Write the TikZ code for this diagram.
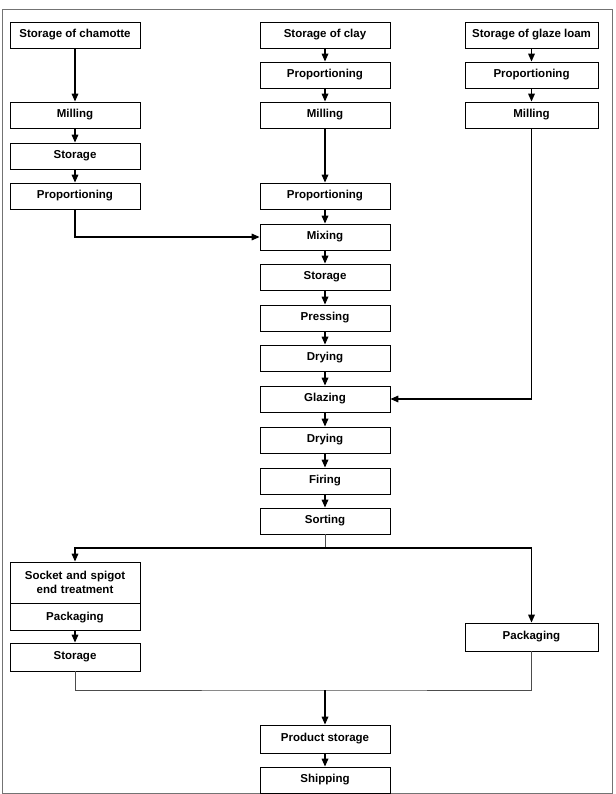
\documentclass[tikz,border=0pt]{standalone}
\usepackage{fontspec}
\setmainfont{Liberation Sans}
\usetikzlibrary{arrows.meta}
\begin{document}
\begin{tikzpicture}[x=1pt,y=-1pt,
  box/.style={draw, line width=0.7pt, minimum width=130pt, minimum height=26pt, inner sep=1pt,
    font=\fontsize{11.5}{13.5}\selectfont\bfseries, align=center},
  arr/.style={line width=1.6pt, -{Triangle[length=8pt,width=6.5pt]}},
  thin/.style={line width=0.6pt, draw=black!70}]
\useasboundingbox (0,0) rectangle (615,794);
\draw[line width=0.8pt, draw=black!55] (2,9) rectangle (612,793);
% left column
\node[box] (cham) at (75,35) {Storage of chamotte};
\node[box] (mill1) at (75,115) {Milling};
\node[box] (stor1) at (75,156) {Storage};
\node[box] (prop1) at (75,196) {Proportioning};
% middle column
\node[box] (clay) at (325,35) {Storage of clay};
\node[box] (prop2) at (325,75) {Proportioning};
\node[box] (mill2) at (325,115) {Milling};
\node[box] (prop3) at (325,196) {Proportioning};
\node[box] (mix) at (325,237) {Mixing};
\node[box] (stor2) at (325,277) {Storage};
\node[box] (press) at (325,318) {Pressing};
\node[box] (dry1) at (325,358) {Drying};
\node[box] (glaze) at (325,399) {Glazing};
\node[box] (dry2) at (325,440) {Drying};
\node[box] (fire) at (325,481) {Firing};
\node[box] (sort) at (325,521) {Sorting};
% right column
\node[box, minimum width=133pt] (gloam) at (531.5,35) {Storage of glaze loam};
\node[box, minimum width=133pt] (prop4) at (531.5,75) {Proportioning};
\node[box, minimum width=133pt] (mill3) at (531.5,115) {Milling};
% lower part
\node[box, minimum height=41pt, text width=126pt] (sock) at (75,582.5) {Socket and spigot\\end treatment};
\node[box, minimum height=27pt, anchor=north] (pack1) at (sock.south) {Packaging};
\node[box, minimum height=28pt] (stor3) at (75,657) {Storage};
\node[box, minimum width=133pt, minimum height=28pt] (pack2) at (531.5,637) {Packaging};
\node[box, minimum height=28pt] (prod) at (325,739) {Product storage};
\node[box] (ship) at (325,780) {Shipping};
\coordinate (split) at (325,548);
\coordinate (merge) at (325,690);
% arrows
\draw[arr] (cham) -- (mill1);
\draw[arr] (mill1) -- (stor1);
\draw[arr] (stor1) -- (prop1);
\draw[arr] (prop1.south) |- (mix.west);
\draw[arr] (clay) -- (prop2);
\draw[arr] (prop2) -- (mill2);
\draw[arr] (mill2) -- (prop3);
\draw[arr] (prop3) -- (mix);
\draw[arr] (mix) -- (stor2);
\draw[arr] (stor2) -- (press);
\draw[arr] (press) -- (dry1);
\draw[arr] (dry1) -- (glaze);
\draw[arr] (glaze) -- (dry2);
\draw[arr] (dry2) -- (fire);
\draw[arr] (fire) -- (sort);
\draw[arr] (gloam) -- (prop4);
\draw[arr] (prop4) -- (mill3);
\draw[arr] (mill3.south) |- (glaze.east);
\draw[thin] (sort.south) -- (split);
\draw[arr] (split) -| (sock.north);
\draw[arr] (split) -| (pack2.north);
\draw[arr] (pack1) -- (stor3);
\draw[thin] (stor3.south) |- (merge) -| (pack2.south);
\draw[arr] (merge) -- (prod);
\draw[arr] (prod) -- (ship);
\end{tikzpicture}
\end{document}
